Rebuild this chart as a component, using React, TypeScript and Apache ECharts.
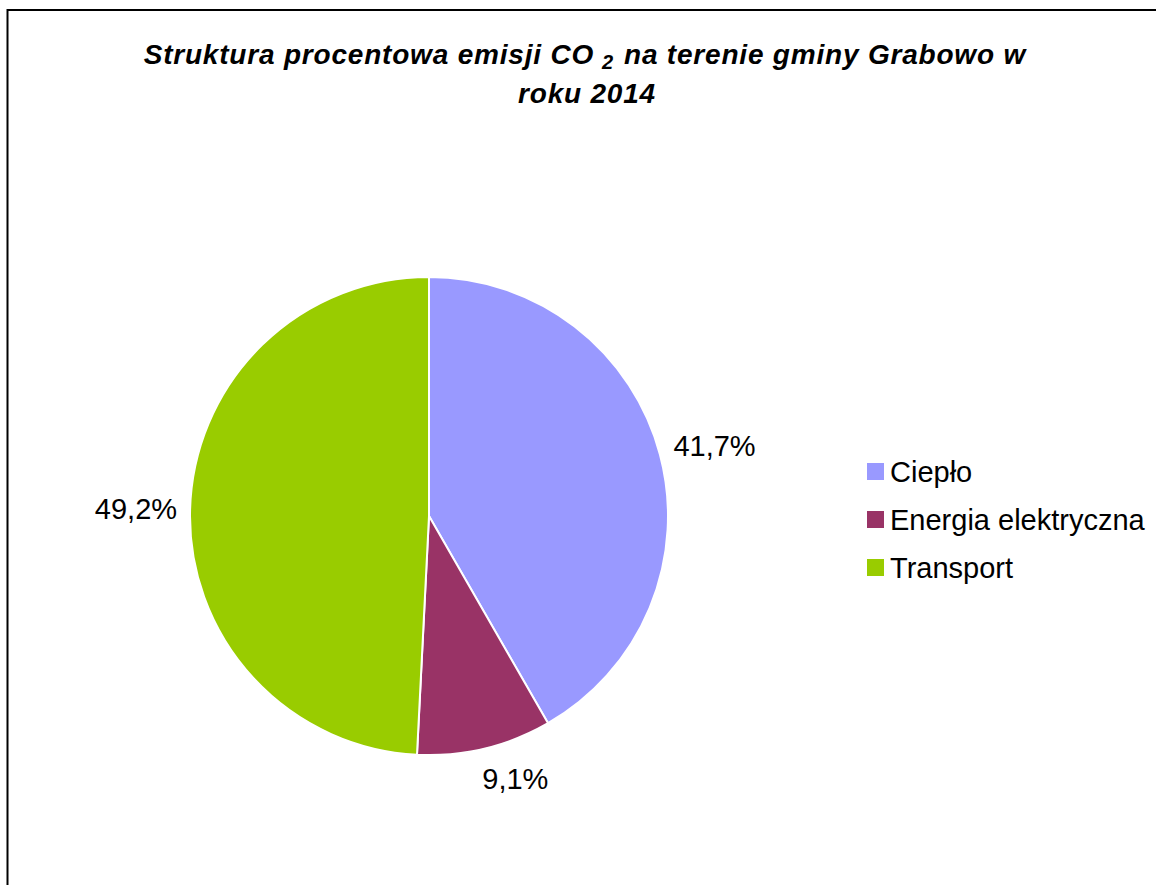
import React, { useEffect, useRef } from "react";
import * as echarts from "echarts";

const categories = ["Ciepło", "Energia elektryczna", "Transport"];
const values = [41.7, 9.1, 49.2];
const colors = ["#9999FF", "#993366", "#99CC00"];
const titleLine1a = "Struktura procentowa emisji CO";
const titleSub = "2";
const titleLine1b = "na terenie gminy Grabowo w";
const titleLine2 = "roku 2014";

const FONT = "'Liberation Sans', Arial, sans-serif";
const LABEL_OFFSETS = [
  [-1, -5],
  [-6, 16],
  [2, -1],
];

function titleText(text: string, x: number, y: number, size: number, align: string) {
  return {
    type: "text",
    x,
    y,
    silent: true,
    style: {
      text,
      fontFamily: FONT,
      fontSize: size,
      fontWeight: "bold",
      fontStyle: "italic",
      fill: "#000",
      align,
      textAlign: align,
      verticalAlign: "middle",
      textVerticalAlign: "middle",
    },
  };
}

export default function App() {
  const ref = useRef<HTMLDivElement>(null);
  useEffect(() => {
    const chart = echarts.init(ref.current!, null, { renderer: "svg" });
    chart.setOption({
      animation: false,
      backgroundColor: "#ffffff",
      legend: {
        orient: "vertical",
        left: 865,
        top: 457,
        padding: 0,
        itemWidth: 19,
        itemHeight: 19,
        itemGap: 19,
        icon: "rect",
        selectedMode: false,
        textStyle: { fontFamily: FONT, fontSize: 29, color: "#000", lineHeight: 29 },
        data: categories,
      },
      series: [
        {
          type: "pie",
          center: [429, 516],
          radius: 239,
          startAngle: 90,
          clockwise: true,
          avoidLabelOverlap: false,
          data: categories.map((name, i) => ({
            name,
            value: values[i],
            itemStyle: { color: colors[i] },
          })),
          itemStyle: { borderColor: "#ffffff", borderWidth: 2 },
          label: {
            show: true,
            position: "outside",
            formatter: (p: any) => p.value.toFixed(1).replace(".", ",") + "%",
            fontFamily: FONT,
            fontSize: 29,
            color: "#000",
            distanceToLabelLine: 0,
          },
          labelLine: { show: false, length: 15, length2: 0 },
          labelLayout: (p: any) => ({
            dx: LABEL_OFFSETS[p.dataIndex][0],
            dy: LABEL_OFFSETS[p.dataIndex][1],
          }),
          emphasis: { disabled: true },
        },
      ],
      graphic: [
        {
          type: "rect",
          silent: true,
          shape: { x: 7.5, y: 10, width: 1400, height: 1200 },
          style: { fill: "transparent", stroke: "#000", lineWidth: 2 },
        },
        titleText(titleLine1a, 594, 54, 28, "right"),
        titleText(titleSub, 602, 62, 20, "left"),
        titleText(titleLine1b, 624, 54, 28, "left"),
        titleText(titleLine2, 587, 93, 28, "center"),
      ],
    });
    return () => chart.dispose();
  }, []);
  return (
    <>
      <style>{`#chartroot text[style*="bold"] { letter-spacing: 0.8px; }`}</style>
      <div
        id="chartroot"
        ref={ref}
        style={{ position: "fixed", left: 0, top: 0, width: 1156, height: 885, background: "#fff" }}
      />
    </>
  );
}
